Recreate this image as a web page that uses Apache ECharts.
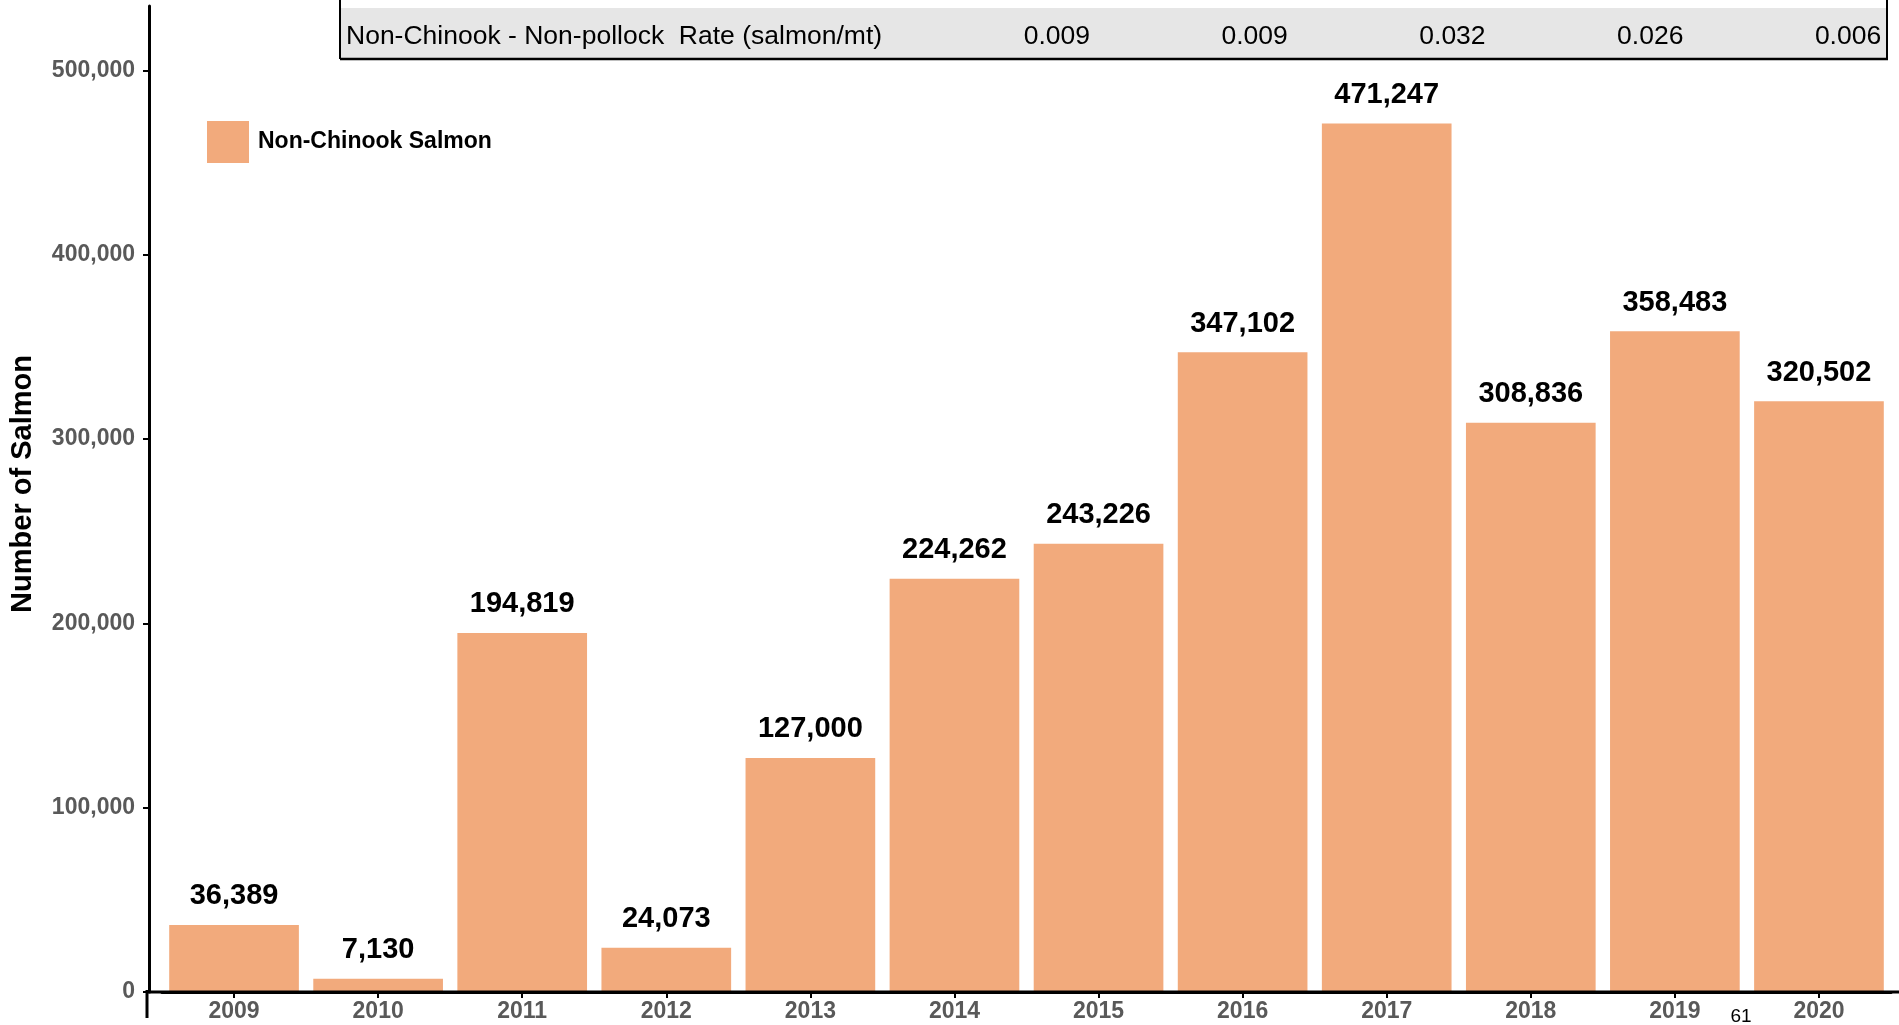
<!DOCTYPE html>
<html>
<head>
<meta charset="utf-8">
<script src="https://cdn.jsdelivr.net/npm/echarts@6/dist/echarts.min.js"></script>
<style>
html,body{margin:0;padding:0;background:#fff;}
#chart{width:1899px;height:1025px;}
</style>
</head>
<body>
<div id="chart"></div>
<script>
const years = ['2009','2010','2011','2012','2013','2014','2015','2016','2017','2018','2019','2020'];
const nonChinook = [36389, 7130, 194819, 24073, 127000, 224262, 243226, 347102, 471247, 308836, 358483, 320502];
const yTicks = [0, 100000, 200000, 300000, 400000, 500000];
const rateLabel = 'Non-Chinook - Non-pollock  Rate (salmon/mt)';
const rateValues = ['0.009', '0.009', '0.032', '0.026', '0.006'];
const pageNumber = '61';

const fmt = v => v.toLocaleString('en-US');
const FONT = 'Liberation Sans, Arial, sans-serif';

const chart = echarts.init(document.getElementById('chart'));

const graphics = [
  { type: 'rect', shape: { x: 341, y: 8, width: 1545, height: 50 }, style: { fill: '#e6e6e6' }, z: 1 },
  { type: 'line', shape: { x1: 340, y1: 0, x2: 340, y2: 59 }, style: { stroke: '#000', lineWidth: 2 }, z: 2 },
  { type: 'line', shape: { x1: 1887, y1: 0, x2: 1887, y2: 59 }, style: { stroke: '#000', lineWidth: 2 }, z: 2 },
  { type: 'line', shape: { x1: 340, y1: 59, x2: 1888, y2: 59 }, style: { stroke: '#000', lineWidth: 2.5 }, z: 2 },
  { type: 'text', x: 346, y: 37, style: { text: rateLabel, font: '26.5px ' + FONT, fill: '#000', textAlign: 'left', textVerticalAlign: 'middle' }, z: 3 },
  { type: 'line', shape: { x1: 147, y1: 990, x2: 147, y2: 1018 }, style: { stroke: '#000', lineWidth: 3 }, z: 10 },
  { type: 'line', shape: { x1: 146, y1: 992, x2: 1899, y2: 992 }, style: { stroke: '#000', lineWidth: 3 }, z: 10 },
  { type: 'text', x: 1741, y: 1017, style: { text: pageNumber, font: '19px ' + FONT, fill: '#000', textAlign: 'center', textVerticalAlign: 'middle' }, z: 3 }
];
rateValues.forEach((v, i) => {
  graphics.push({ type: 'text', x: 1090 + i * 197.8, y: 37, style: { text: v, font: '26.5px ' + FONT, fill: '#000', textAlign: 'right', textVerticalAlign: 'middle' }, z: 3 });
});

chart.setOption({
  animation: false,
  textStyle: { fontFamily: FONT },
  grid: { left: 160, right: 8, top: 6, bottom: 33, containLabel: false },
  legend: {
    left: 202, top: 116,
    itemWidth: 42, itemHeight: 42,
    icon: 'rect',
    textStyle: { fontSize: 23, fontWeight: 'bold', color: '#000', padding: [0, 0, 0, 4] },
    data: ['Non-Chinook Salmon']
  },
  xAxis: {
    type: 'category',
    data: years,
    axisLine: { show: true, lineStyle: { color: '#000', width: 3 } },
    axisTick: { show: true, alignWithLabel: true, length: 6, lineStyle: { color: '#000', width: 2 } },
    axisLabel: { color: '#595959', fontSize: 23, fontWeight: 'bold', margin: 8 },
    splitLine: { show: false }
  },
  yAxis: {
    type: 'value',
    min: 0, max: 535000, interval: 100000,
    offset: 13,
    name: 'Number of Salmon',
    nameLocation: 'middle',
    nameGap: 112,
    nameRotate: 90,
    nameTextStyle: { fontSize: 29, fontWeight: 'bold', color: '#000', padding: [0, 0, 0, 30] },
    axisLine: { show: true, lineStyle: { color: '#000', width: 3 } },
    axisTick: { show: true, length: 6, lineStyle: { color: '#000', width: 2 }, customValues: yTicks },
    axisLabel: { color: '#595959', fontSize: 23, fontWeight: 'bold', margin: 14, customValues: yTicks, formatter: v => fmt(v) },
    splitLine: { show: false }
  },
  series: [{
    name: 'Non-Chinook Salmon',
    type: 'bar',
    data: nonChinook,
    barCategoryGap: '10%',
    itemStyle: { color: '#f2aa7c' },
    label: {
      show: true, position: 'top', distance: 14,
      fontSize: 29, fontWeight: 'bold', color: '#000',
      formatter: p => fmt(p.value)
    }
  }],
  graphic: graphics
});
</script>
</body>
</html>
